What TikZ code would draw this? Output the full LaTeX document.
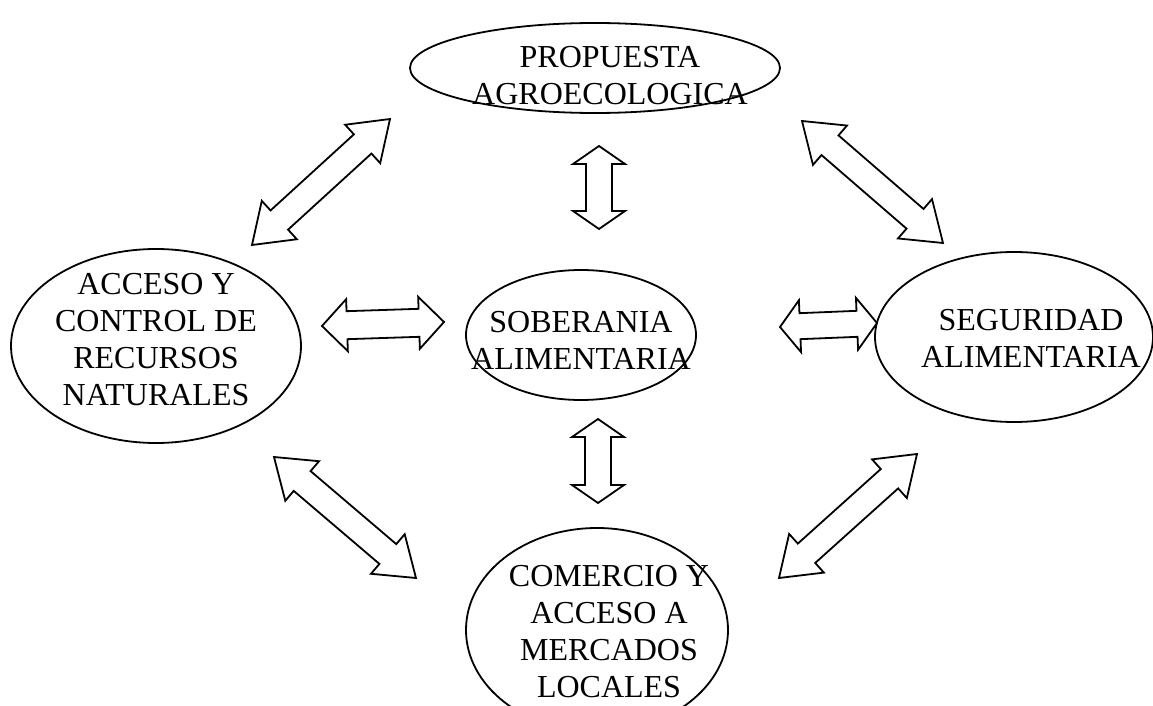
\documentclass[tikz,border=0pt]{standalone}
\usepackage{fontspec}
\setmainfont{Liberation Serif}
\usetikzlibrary{shapes.geometric,calc}

\newcommand{\twoway}[4]{%
  \coordinate (#1h) at ($(#1)!#3!(#2)$);
  \coordinate (#2h) at ($(#2)!#3!(#1)$);
  \draw[blockarrow] (#1)
    -- ($(#1h)!13pt!90:(#2)$) -- ($(#1h)!#4!90:(#2)$)
    -- ($(#2h)!#4!90:(#2)$) -- ($(#2h)!13pt!90:(#2)$)
    -- (#2)
    -- ($(#2h)!13pt!-90:(#2)$) -- ($(#2h)!#4!-90:(#2)$)
    -- ($(#1h)!#4!-90:(#2)$) -- ($(#1h)!13pt!-90:(#2)$)
    -- cycle;
}

\begin{document}
\begin{tikzpicture}[x=0.5pt,y=-0.5pt,
  oval/.style={draw,ellipse,line width=0.9pt,inner sep=0pt},
  caption/.style={align=center,inner sep=0pt,font=\fontsize{16}{18.5}\selectfont},
  blockarrow/.style={draw,line width=0.9pt,line join=miter,fill=white}]
  \clip (0,0) rectangle (1153,706);

  \node[oval,minimum width=185pt,minimum height=45pt] (prop) at (595,68) {};
  \node[caption] (prop-t) at (610,76) {PROPUESTA\\AGROECOLOGICA};
  \node[oval,minimum width=145pt,minimum height=97pt] (acceso) at (156,346) {};
  \node[caption] (acceso-t) at (156,340) {ACCESO Y\\CONTROL DE\\RECURSOS\\NATURALES};
  \node[oval,minimum width=115pt,minimum height=65pt] (sob) at (581,335) {};
  \node[caption] (sob-t) at (581,340) {SOBERANIA\\ALIMENTARIA};
  \node[oval,minimum width=139pt,minimum height=85pt] (seg) at (1014,337) {};
  \node[caption] (seg-t) at (1031,338) {SEGURIDAD\\ALIMENTARIA};
  \node[oval,minimum width=131pt,minimum height=102pt] (com) at (597,630) {};
  \node[caption] (com-t) at (609,632) {COMERCIO Y\\ACCESO A\\MERCADOS\\LOCALES};

  \coordinate (tla) at (252,245);
  \coordinate (tlb) at (390,119);
  \coordinate (tra) at (802,121);
  \coordinate (trb) at (943,243);
  \coordinate (tva) at (599,146);
  \coordinate (tvb) at (599,229);
  \coordinate (lha) at (322,326);
  \coordinate (lhb) at (444,322);
  \coordinate (rha) at (780,327);
  \coordinate (rhb) at (877,323);
  \coordinate (bva) at (598,419);
  \coordinate (bvb) at (598,503);
  \coordinate (bla) at (274,457);
  \coordinate (blb) at (416,578);
  \coordinate (bra) at (917,454);
  \coordinate (brb) at (779,578);

  \twoway{tla}{tlb}{18.5pt}{6.5pt}
  \twoway{tra}{trb}{18.5pt}{6.5pt}
  \twoway{tva}{tvb}{9pt}{6.5pt}
  \twoway{lha}{lhb}{12.5pt}{7pt}
  \twoway{rha}{rhb}{10pt}{6.5pt}
  \twoway{bva}{bvb}{9pt}{6.5pt}
  \twoway{bla}{blb}{18.5pt}{6.5pt}
  \twoway{bra}{brb}{18.5pt}{6.5pt}
\end{tikzpicture}
\end{document}
